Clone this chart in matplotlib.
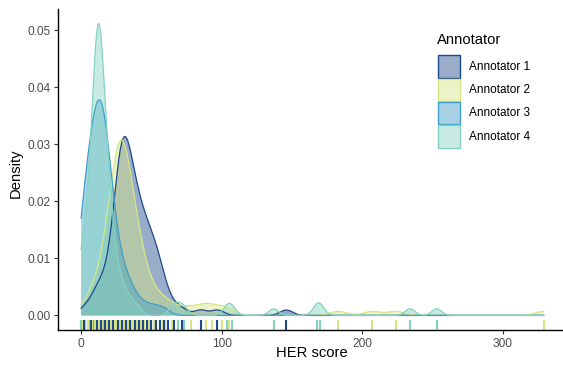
import numpy as np
import matplotlib
matplotlib.use("Agg")
import matplotlib.pyplot as plt
from matplotlib.patches import Rectangle
from matplotlib.colors import to_rgba
from matplotlib.transforms import blended_transform_factory

plt.rcParams['font.family'] = ['Liberation Sans', 'DejaVu Sans']

names = ["Annotator 1", "Annotator 2", "Annotator 3", "Annotator 4"]
colors = ["#1e4a8c", "#d6e683", "#3f9fc8", "#84d3c2"]

# HER scores given by each annotator: score value and how many times it was given
a1_scores = [2, 7, 11, 14, 17, 20, 23, 26, 29, 32, 35, 38, 41, 44, 47, 50, 53, 56, 59, 62, 66, 72, 85, 97, 146]
a1_counts = [1, 1, 2, 2, 2, 2, 5, 8, 11, 10, 8, 7, 6, 5, 5, 4, 4, 3, 2, 1, 1, 1, 1, 1, 1]

a2_scores = [1, 5, 8, 10, 12, 13, 14, 15, 17, 18, 19, 20, 21, 22, 23, 24, 25, 26, 27, 28, 29,
             30, 31, 32, 33, 34, 35, 36, 37, 38, 39, 40, 41, 42, 43, 44, 45, 47, 48, 50, 52,
             56, 58, 60, 65, 72, 78,
             85, 89, 93, 100, 105, 183, 207, 224, 329]
a2_counts = [1, 1, 1, 1, 1, 1, 1, 1, 1, 2, 1, 2, 2, 2, 2, 3, 3, 4, 5, 5, 3,
             4, 3, 3, 3, 3, 2, 2, 1, 2, 2, 2, 1, 2, 1, 1, 1, 1, 1, 1, 1,
             1, 1, 1, 1, 1, 1,
             1, 1, 1, 1, 1, 1, 1, 1, 1]

a3_scores = [0, 3, 6, 9, 12, 15, 18, 21, 24, 27, 30, 34, 38, 43, 50, 58]
a3_counts = [5, 5, 6, 7, 9, 9, 7, 5, 3, 2, 2, 2, 1, 1, 1, 1]

a4_scores = [0, 3, 6, 8, 10, 12, 14, 16, 18, 21, 24, 27, 30, 33, 36, 40,
             65, 69, 73, 104, 107, 137, 168, 170, 234, 253]
a4_counts = [5, 5, 4, 6, 11, 15, 12, 7, 7, 7, 3, 2, 2, 1, 1, 1,
             1, 1, 1, 1, 1, 1, 1, 1, 1, 1]

# kernel bandwidth per annotator
bandwidths = [4.5, 6, 5, 3.5]

all_scores = [a1_scores, a2_scores, a3_scores, a4_scores]
all_counts = [a1_counts, a2_counts, a3_counts, a4_counts]


def kde(scores, counts, bw, grid):
    s = np.asarray(scores, float)
    w = np.asarray(counts, float)
    z = (grid[:, None] - s[None, :]) / bw
    return (np.exp(-0.5 * z ** 2) * w).sum(axis=1) / (w.sum() * bw * np.sqrt(2 * np.pi))


W, H = 563, 365
fig = plt.figure(figsize=(W / 100, H / 100), dpi=100)

lo = min(min(s) for s in all_scores)
hi = max(max(s) for s in all_scores)
grid = np.linspace(lo, hi, 512)
dens = [kde(s, c, bw, grid) for s, c, bw in zip(all_scores, all_counts, bandwidths)]
ymax = max(d.max() for d in dens)

xr = hi - lo
xlim = (lo - 0.05 * xr, hi + 0.05 * xr)
ylim = (-0.05 * ymax, ymax * 1.05)

px_per_unit = (502.7 - 81) / 300.0
left_px = 58
right_px = left_px + (xlim[1] - xlim[0]) * px_per_unit
ax = fig.add_axes([left_px / W, (H - 330) / H, (right_px - left_px) / W, 321 / H])

for d, col in zip(dens, colors):
    ax.fill_between(grid, 0, d, facecolor=to_rgba(col, 0.45), edgecolor="none")
    ax.plot(grid, d, color=col, lw=0.9)

# rug, navy drawn last
trans = blended_transform_factory(ax.transData, ax.transAxes)
for i in [2, 3, 1, 0]:
    ax.vlines(all_scores[i], 0, 0.03, transform=trans, color=colors[i], lw=1.5)

ax.set_xlim(*xlim)
ax.set_ylim(*ylim)
ax.set_xticks([0, 100, 200, 300])
ax.set_yticks([0, 0.01, 0.02, 0.03, 0.04, 0.05])
ax.set_yticklabels(["0.00", "0.01", "0.02", "0.03", "0.04", "0.05"])
for sp in ["top", "right"]:
    ax.spines[sp].set_visible(False)
for sp in ["left", "bottom"]:
    ax.spines[sp].set_linewidth(1.0)
    ax.spines[sp].set_color("black")
ax.tick_params(labelsize=8.6, labelcolor="#4d4d4d", color="#333333", length=3, width=0.8, pad=2.5)

fig.text(16 / W, 1 - 173 / H, "Density", rotation=90, ha="center", va="center", fontsize=10.6)
fig.text(312 / W, 1 - 353 / H, "HER score", ha="center", va="center", fontsize=10.6)

# legend
fig.text(437 / W, 1 - 40 / H, "Annotator", ha="left", va="center", fontsize=10.6)
key_top = 55
key_h = 23.3
for i, (name, col) in enumerate(zip(names, colors)):
    y0 = key_top + i * key_h
    fig.add_artist(Rectangle((437.5 / W, 1 - (y0 + key_h - 0.5) / H), 22 / W, (key_h - 1) / H,
                             transform=fig.transFigure, facecolor=to_rgba(col, 0.45),
                             edgecolor=col, lw=1.0))
    fig.text(469 / W, 1 - (y0 + key_h / 2) / H, name, ha="left", va="center", fontsize=8.5)

fig.savefig("out.png", dpi=100)
